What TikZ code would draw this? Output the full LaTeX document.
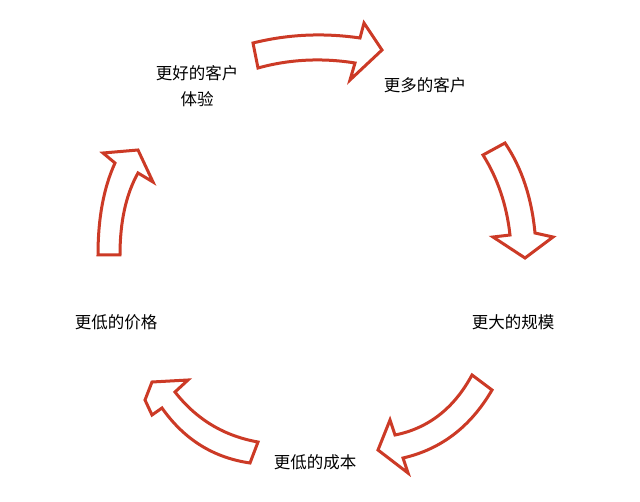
\documentclass[tikz,border=0pt]{standalone}
\usepackage{fontspec}
\usetikzlibrary{calc}
\newfontfamily\cjk{Noto Sans CJK SC}
\definecolor{ared}{RGB}{204,58,38}
\newcommand{\qc}[3]{.. controls ($(#1)!0.667!(#2)$) and ($(#3)!0.667!(#2)$) .. (#3)}
\begin{document}
\begin{tikzpicture}[x=1pt,y=-1pt,
  blk/.style={draw=ared,fill=white,line width=3pt,line join=miter},
  lbl/.style={font=\cjk\fontsize{16.5}{26}\selectfont,align=center}]
\useasboundingbox (0,0) rectangle (640,502);
% arrow 1 (top)
\draw[blk] (253,43) \qc{253,43}{305,30}{360,38} -- (364,23) -- (382,50) -- (350,80) -- (355,63) \qc{355,63}{305,55}{258,68} -- cycle;
% arrow 2 (right)
\draw[blk] (505,143) \qc{505,143}{530,180}{535,233} -- (553,237) -- (525,258) -- (493,237) -- (510,235) \qc{510,235}{505,190}{483,155} -- cycle;
% arrow 3 (bottom right)
\draw[blk] (492,390) \qc{492,390}{460,445}{403,458} -- (408,473) -- (378,450) -- (390,420) -- (395,435) \qc{395,435}{445,425}{472,375} -- cycle;
% arrow 4 (bottom left)
\draw[blk] (250,463) \qc{250,463}{195,455}{162,408} -- (152,415) -- (145,400) -- (152,382) -- (188,380) -- (175,392) \qc{175,392}{207,433}{258,442} -- cycle;
% arrow 5 (left)
\draw[blk] (98,255) \qc{98,255}{98,200}{115,163} -- (103,153) -- (138,150) -- (153,182) -- (138,173) \qc{138,173}{120,205}{120,255} -- cycle;
\node[lbl] (a) at (197,86) {更好的客户\\体验};
\node[lbl] (b) at (425,85) {更多的客户};
\node[lbl] (c) at (513,322) {更大的规模};
\node[lbl] (d) at (116,322) {更低的价格};
\node[lbl] (e) at (315,462) {更低的成本};
\end{tikzpicture}
\end{document}
